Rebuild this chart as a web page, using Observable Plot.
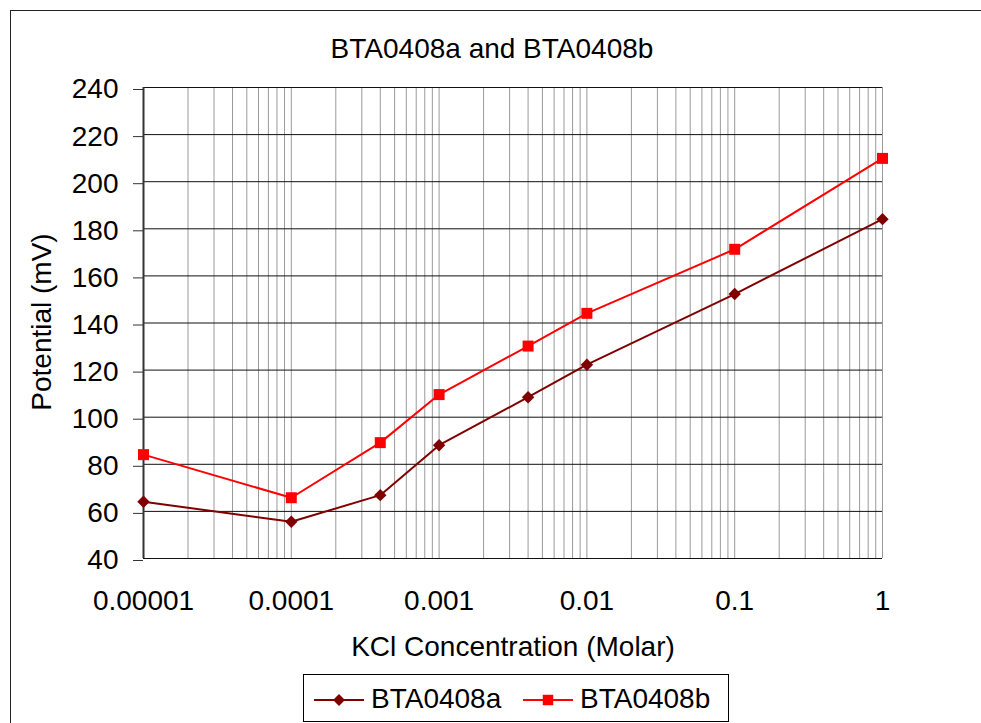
<!DOCTYPE html>
<html>
<head>
<meta charset="utf-8">
<script src="https://cdn.jsdelivr.net/npm/d3@7"></script>
<script src="https://cdn.jsdelivr.net/npm/@observablehq/plot@0.6"></script>
<style>
  html, body { margin: 0; padding: 0; background: #fff; }
  #wrap { position: relative; width: 981px; height: 723px; overflow: hidden; background: #fff; font-family: "Liberation Sans", Arial, sans-serif; }
  #frame { position: absolute; left: 10px; top: 10px; width: 1000px; height: 800px; border: 1.5px solid #222; box-sizing: border-box; }
  #chart { position: absolute; left: 0; top: 0; }
  #overlay { position: absolute; left: 0; top: 0; pointer-events: none; }
</style>
</head>
<body>
<div id="wrap">
  <div id="frame"></div>
  <div id="chart"></div>
  <svg id="overlay" width="981" height="723"></svg>
</div>
<script>
// ---- data ----
const concentration = [0.00001, 0.0001, 0.0004, 0.001, 0.004, 0.01, 0.1, 1];
const seriesA = [64.1, 55.6, 66.9, 88.1, 108.5, 122.3, 152.3, 184.1]; // BTA0408a
const seriesB = [84.1, 65.8, 89.2, 109.6, 130.2, 144.1, 171.3, 209.9]; // BTA0408b
const seriesNames = ["BTA0408a", "BTA0408b"];
const seriesColors = ["#800000", "#ff0000"];
const xTicks = [0.00001, 0.0001, 0.001, 0.01, 0.1, 1];
const xTickLabels = ["0.00001", "0.0001", "0.001", "0.01", "0.1", "1"];
const yTicks = [40, 60, 80, 100, 120, 140, 160, 180, 200, 220, 240];
const titleText = "BTA0408a and BTA0408b";
const xLabel = "KCl Concentration (Molar)";
const yLabel = "Potential (mV)";

// ---- derived tables ----
const rowsA = concentration.map((c, i) => ({c, v: seriesA[i]}));
const rowsB = concentration.map((c, i) => ({c, v: seriesB[i]}));
const xLabelOf = new Map(xTicks.map((t, i) => [t, xTickLabels[i]]));
const xTickRows = xTicks.map((t, i) => ({t, label: xTickLabels[i]}));
const minorGrid = xTicks.slice(0, -1).flatMap(d => d3.range(1, 10).map(m => +(m * d).toPrecision(6))).concat([xTicks[xTicks.length - 1]]);

const FONT = "'Liberation Sans', Arial, sans-serif";

const chart = Plot.plot({
  width: 981,
  height: 640,
  marginTop: 87,
  marginBottom: 82,
  marginLeft: 143,
  marginRight: 99,
  style: {fontFamily: FONT, fontSize: "28px", color: "#000", background: "transparent"},
  x: {type: "log", domain: [xTicks[0], xTicks[xTicks.length - 1]], axis: null},
  y: {domain: [yTicks[0], yTicks[yTicks.length - 1]]},
  marks: [
    Plot.gridX(minorGrid, {stroke: "#9a9a9a", strokeOpacity: 1, strokeWidth: 1}),
    Plot.gridY(yTicks, {stroke: "#111", strokeOpacity: 1, strokeWidth: 1}),
    Plot.ruleX([xTicks[0]], {stroke: "#333", strokeWidth: 2}),
    Plot.axisY(yTicks, {tickSize: 10, tickPadding: 15, fontSize: 28, label: null, dy: 2, stroke: "#333"}),
    Plot.text(xTickRows, {x: "t", text: "label", frameAnchor: "bottom", lineAnchor: "top", dy: 32, fontSize: 28, fill: "#000"}),
    Plot.line(rowsA, {x: "c", y: "v", stroke: seriesColors[0], strokeWidth: 2}),
    Plot.line(rowsB, {x: "c", y: "v", stroke: seriesColors[1], strokeWidth: 2}),
    Plot.dot(rowsA, {x: "c", y: "v", symbol: "diamond2", r: 5.6, fill: seriesColors[0], stroke: "none"}),
    Plot.dot(rowsB, {x: "c", y: "v", symbol: "square", r: 6.2, fill: seriesColors[1], stroke: "none"})
  ]
});
document.getElementById("chart").appendChild(chart);

// ---- overlay: title, axis labels, legend ----
const ov = d3.select("#overlay").style("font-family", FONT);
ov.append("text").attr("x", 492).attr("y", 58).attr("text-anchor", "middle")
  .attr("font-size", 28).attr("fill", "#000").text(titleText);
ov.append("text").attr("x", 513).attr("y", 656).attr("text-anchor", "middle")
  .attr("font-size", 28).attr("fill", "#000").text(xLabel);
ov.append("text").attr("transform", "translate(51,322) rotate(-90)").attr("text-anchor", "middle")
  .attr("font-size", 28).attr("fill", "#000").text(yLabel);

// legend
ov.append("rect").attr("x", 303.5).attr("y", 674.5).attr("width", 425).attr("height", 47)
  .attr("fill", "#fff").attr("stroke", "#000").attr("stroke-width", 1);
const legendItems = [
  {name: seriesNames[0], color: seriesColors[0], x0: 314, sym: d3.symbolDiamond2, size: 90},
  {name: seriesNames[1], color: seriesColors[1], x0: 523, sym: d3.symbolSquare, size: 110}
];
legendItems.forEach(it => {
  ov.append("line").attr("x1", it.x0).attr("x2", it.x0 + 50).attr("y1", 700).attr("y2", 700)
    .attr("stroke", it.color).attr("stroke-width", 2);
  ov.append("path").attr("d", d3.symbol(it.sym, it.size)()).attr("transform", `translate(${it.x0 + 25},700)`)
    .attr("fill", it.color);
  ov.append("text").attr("x", it.x0 + 57).attr("y", 708).attr("font-size", 28).attr("fill", "#000").text(it.name);
});
</script>
</body>
</html>
